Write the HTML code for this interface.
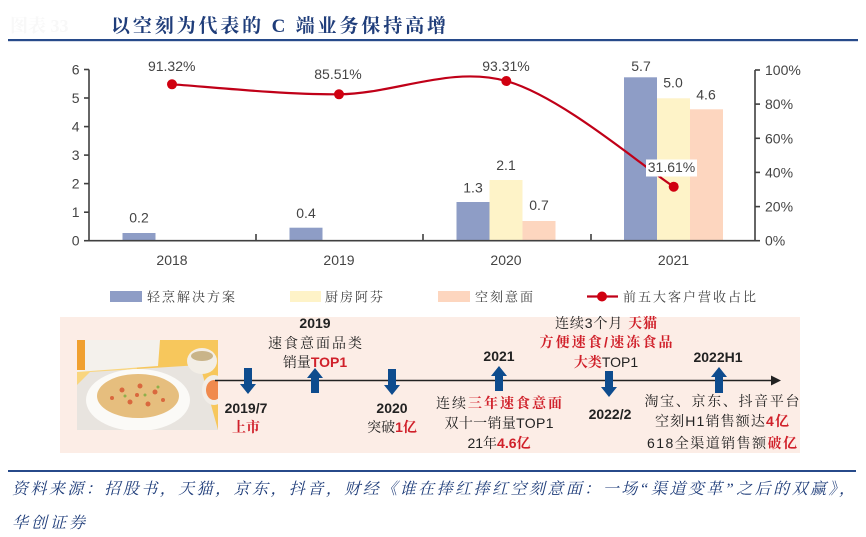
<!DOCTYPE html>
<html><head><meta charset="utf-8">
<style>
html,body{margin:0;padding:0;background:#fff;}
svg{display:block;}
.ax{font-family:"Liberation Sans",sans-serif;font-size:14px;fill:#444;}
.lg{font-family:"Liberation Sans","Noto Serif CJK SC",serif;font-size:13px;fill:#404040;letter-spacing:2px;}
.tl{font-family:"Liberation Sans","Noto Serif CJK SC",serif;font-size:14px;fill:#222;}
.b{font-weight:bold;}
.r{fill:#D0202A;font-weight:bold;}
</style></head>
<body>
<svg width="866" height="537" viewBox="0 0 866 537" xmlns="http://www.w3.org/2000/svg">
<rect width="866" height="537" fill="#fff"/>
<!-- header -->
<text x="10" y="32" font-family="Liberation Serif,'Noto Serif CJK SC',serif" font-size="18" fill="#f8f8f8" font-weight="bold">图表 33</text>
<text x="111" y="32" textLength="335" lengthAdjust="spacing" font-family="'Liberation Serif','Noto Serif CJK SC',serif" font-size="19" font-weight="bold" fill="#1F3D7A">以空刻为代表的 C 端业务保持高增</text>
<rect x="8" y="39" width="850" height="2.2" fill="#274A8A"/>

<!-- bars -->
<g>
<rect x="122.5" y="233" width="33" height="7.7" fill="#8E9DC6"/>
<rect x="289.5" y="227.7" width="33" height="13" fill="#8E9DC6"/>
<rect x="456.5" y="202" width="33" height="38.7" fill="#8E9DC6"/>
<rect x="489.5" y="180" width="33" height="60.7" fill="#FEF3C8"/>
<rect x="522.5" y="221" width="33" height="19.7" fill="#FDD6BF"/>
<rect x="624" y="77.3" width="33" height="163.4" fill="#8E9DC6"/>
<rect x="657" y="98.3" width="33" height="142.4" fill="#FEF3C8"/>
<rect x="690" y="109.3" width="33" height="131.4" fill="#FDD6BF"/>
</g>

<!-- axes -->
<g stroke="#404040" stroke-width="1.6" fill="none">
<line x1="89" y1="69.5" x2="89" y2="241"/>
<line x1="88" y1="240.7" x2="756" y2="240.7"/>
<line x1="755" y1="70" x2="755" y2="241"/>
<line x1="84" y1="69.5" x2="89" y2="69.5"/>
<line x1="84" y1="98" x2="89" y2="98"/>
<line x1="84" y1="126.6" x2="89" y2="126.6"/>
<line x1="84" y1="155.1" x2="89" y2="155.1"/>
<line x1="84" y1="183.6" x2="89" y2="183.6"/>
<line x1="84" y1="212.2" x2="89" y2="212.2"/>
<line x1="84" y1="240.7" x2="89" y2="240.7"/>
<line x1="755" y1="70" x2="760" y2="70"/>
<line x1="755" y1="104.1" x2="760" y2="104.1"/>
<line x1="755" y1="138.3" x2="760" y2="138.3"/>
<line x1="755" y1="172.4" x2="760" y2="172.4"/>
<line x1="755" y1="206.6" x2="760" y2="206.6"/>
<line x1="755" y1="240.7" x2="760" y2="240.7"/>
<line x1="256" y1="234" x2="256" y2="240.7"/>
<line x1="423" y1="234" x2="423" y2="240.7"/>
<line x1="591" y1="234" x2="591" y2="240.7"/>
</g>
<g class="ax" text-anchor="end">
<text x="79.5" y="74.5">6</text>
<text x="79.5" y="103">5</text>
<text x="79.5" y="131.6">4</text>
<text x="79.5" y="160.1">3</text>
<text x="79.5" y="188.6">2</text>
<text x="79.5" y="217.2">1</text>
<text x="79.5" y="245.7">0</text>
</g>
<g class="ax">
<text x="765" y="75">100%</text>
<text x="765" y="109.1">80%</text>
<text x="765" y="143.3">60%</text>
<text x="765" y="177.4">40%</text>
<text x="765" y="211.6">20%</text>
<text x="765" y="245.7">0%</text>
</g>
<g class="ax" text-anchor="middle">
<text x="172" y="265">2018</text>
<text x="339" y="265">2019</text>
<text x="506" y="265">2020</text>
<text x="673.5" y="265">2021</text>
<text x="139" y="222.7">0.2</text>
<text x="306" y="218">0.4</text>
<text x="473" y="192.7">1.3</text>
<text x="506" y="170">2.1</text>
<text x="539" y="210">0.7</text>
<text x="641" y="71">5.7</text>
<text x="673" y="87.7">5.0</text>
<text x="706" y="99.3">4.6</text>
<text x="171.7" y="71">91.32%</text>
<text x="338" y="79">85.51%</text>
<text x="506" y="71">93.31%</text>
</g>

<!-- line -->
<path d="M172,84.3 C199.8,86 283.3,94.85 339,94.3 C394.7,93.75 450.5,65.6 506.3,81 C562.1,96.4 645.8,169.1 673.7,186.7" fill="none" stroke="#C00018" stroke-width="2.2"/>
<g fill="#D00010">
<circle cx="172" cy="84.3" r="5"/>
<circle cx="339" cy="94.3" r="5"/>
<circle cx="506.3" cy="81" r="5"/>
<circle cx="673.7" cy="186.7" r="5"/>
</g>
<rect x="646" y="159.5" width="51" height="17" fill="#fff"/>
<text class="ax" x="671.5" y="172" text-anchor="middle">31.61%</text>

<!-- legend -->
<rect x="110" y="291" width="32" height="11" fill="#8E9DC6"/>
<text class="lg" x="147" y="301.5">轻烹解决方案</text>
<rect x="290" y="291" width="31" height="11" fill="#FEF3C8"/>
<text class="lg" x="325" y="301.5">厨房阿芬</text>
<rect x="438" y="291" width="32" height="11" fill="#FDD6BF"/>
<text class="lg" x="475" y="301.5">空刻意面</text>
<line x1="587" y1="296.5" x2="618" y2="296.5" stroke="#C00018" stroke-width="2.2"/>
<circle cx="602" cy="296.5" r="5" fill="#D00010"/>
<text class="lg" x="623" y="301.5">前五大客户营收占比</text>

<!-- timeline box -->
<rect x="60" y="317" width="740" height="136" fill="#FCEDE6"/>
<!-- photo -->
<g>
<clipPath id="ph"><rect x="77" y="340" width="141" height="90"/></clipPath>
<g clip-path="url(#ph)">
<rect x="77" y="340" width="141" height="90" fill="#F7C75C"/>
<rect x="77" y="340" width="60" height="90" fill="#F9D57E"/>
<polygon points="77,340 160,340 158,366 77,372" fill="#F4F1EC"/>
<rect x="77" y="340" width="8" height="30" fill="#F0A030"/>
<polygon points="90,372 200,365 218,430 77,430 77,385" fill="#E8E4DF"/>
<ellipse cx="138" cy="400" rx="52" ry="31" fill="#FBFAF7"/>
<ellipse cx="138" cy="396" rx="41" ry="22" fill="#E6BE7E"/>
<g fill="#D9683E">
<circle cx="122" cy="390" r="2.5"/><circle cx="140" cy="386" r="2.5"/><circle cx="155" cy="392" r="2.5"/>
<circle cx="130" cy="402" r="2.5"/><circle cx="148" cy="404" r="2.5"/><circle cx="112" cy="398" r="2"/>
<circle cx="163" cy="400" r="2"/><circle cx="137" cy="395" r="2"/>
</g>
<g fill="#8FAF4A"><circle cx="145" cy="395" r="1.5"/><circle cx="125" cy="396" r="1.5"/><circle cx="158" cy="387" r="1.5"/></g>
<ellipse cx="202" cy="361" rx="15" ry="13" fill="#F3EEE6"/>
<ellipse cx="202" cy="356" rx="11" ry="5" fill="#C9B489"/>
<ellipse cx="214" cy="390" rx="12" ry="15" fill="#F1EDE8"/>
<ellipse cx="214" cy="390" rx="8" ry="10" fill="#F08A4E"/>
</g>
</g>

<!-- timeline axis -->
<line x1="215" y1="380.5" x2="773" y2="380.5" stroke="#222" stroke-width="1.6"/>
<polygon points="771,375.5 781,380.5 771,385.5" fill="#222"/>

<!-- arrows -->
<g fill="#0E4C8E">
<polygon points="244,368 252,368 252,384 256,384 248,394 240,384 244,384"/>
<polygon points="311,393 319,393 319,378 323,378 315,368 307,378 311,378"/>
<polygon points="388,369 396,369 396,385 400,385 392,395 384,385 388,385"/>
<polygon points="495,391 503,391 503,376 507,376 499,366 491,376 495,376"/>
<polygon points="605,371 613,371 613,387 617,387 609,397 601,387 605,387"/>
<polygon points="715,393 723,393 723,377 727,377 719,367 711,377 715,377"/>
</g>

<!-- timeline text -->
<g class="tl" text-anchor="middle">
<text x="315" y="328" class="b">2019</text>
<text x="315" y="348" textLength="94" lengthAdjust="spacing">速食意面品类</text>
<text x="315" y="367">销量<tspan class="r">TOP1</tspan></text>
<text x="246" y="413" class="b">2019/7</text>
<text x="246" y="432" class="r" font-weight="normal">上市</text>
<text x="392" y="413" class="b">2020</text>
<text x="392" y="432">突破<tspan class="r">1亿</tspan></text>

<text x="499" y="361" class="b">2021</text>
<text x="499" y="408" textLength="126" lengthAdjust="spacing">连续<tspan class="r">三年速食意面</tspan></text>
<text x="499" y="428" textLength="109" lengthAdjust="spacing">双十一销量TOP1</text>
<text x="499" y="448">21年<tspan class="r">4.6亿</tspan></text>

<text x="606" y="328" textLength="102" lengthAdjust="spacing">连续3个月 <tspan class="r">天猫</tspan></text>
<text x="606" y="347" class="r" textLength="133" lengthAdjust="spacing">方便速食/速冻食品</text>
<text x="606" y="367"><tspan class="r">大类</tspan>TOP1</text>
<text x="610" y="419" class="b">2022/2</text>

<text x="718" y="362" class="b">2022H1</text>
<text x="722" y="406" textLength="155" lengthAdjust="spacing">淘宝、京东、抖音平台</text>
<text x="722" y="426" textLength="134" lengthAdjust="spacing">空刻H1销售额达<tspan class="r">4亿</tspan></text>
<text x="722" y="448" textLength="150" lengthAdjust="spacing">618全渠道销售额<tspan class="r">破亿</tspan></text>
</g>

<!-- footer -->
<rect x="8" y="470" width="848" height="2" fill="#274A8A"/>
<text x="12" y="494" textLength="843" lengthAdjust="spacing" font-family="'Liberation Serif','Noto Serif CJK SC',serif" font-size="16" font-style="italic" fill="#1F3D7A">资料来源：招股书，天猫，京东，抖音，财经《谁在捧红捧红空刻意面：一场“渠道变革”之后的双赢》，</text>
<text x="12" y="528" textLength="73" lengthAdjust="spacing" font-family="'Liberation Serif','Noto Serif CJK SC',serif" font-size="16" font-style="italic" fill="#1F3D7A">华创证券</text>
</svg>
</body></html>
